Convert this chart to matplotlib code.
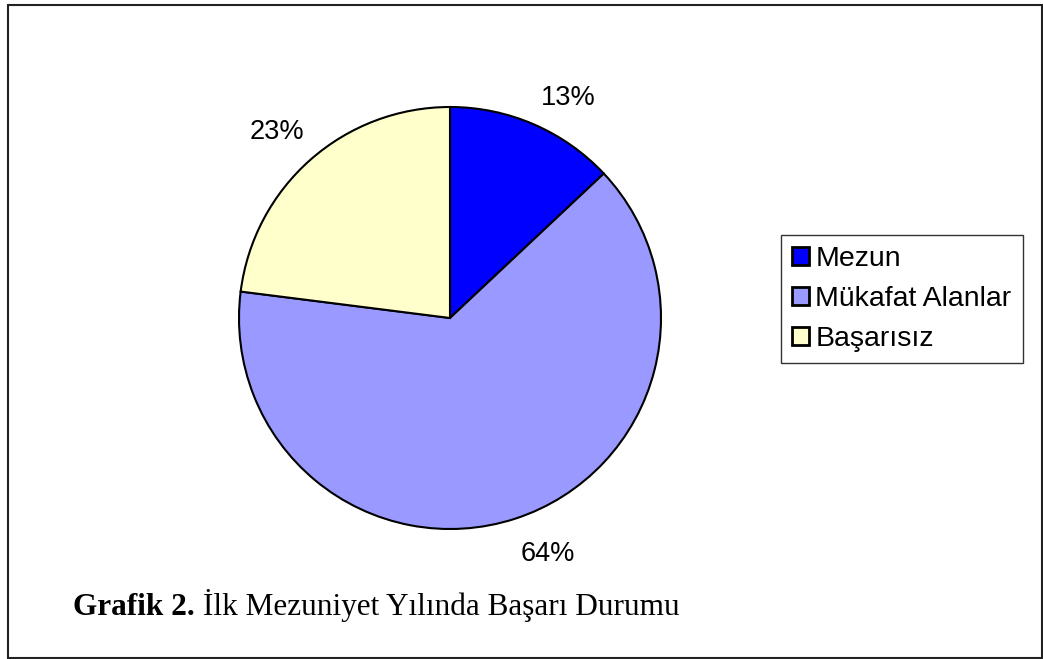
import matplotlib
matplotlib.use("Agg")
import matplotlib.pyplot as plt
from matplotlib.patches import Rectangle
import numpy as np

labels = ["Mezun", "Mükafat Alanlar", "Başarısız"]
values = [13, 64, 23]
colors = ["#0000FF", "#9999FF", "#FFFFCC"]
caption_bold = "Grafik 2."
caption_text = "İlk Mezuniyet Yılında Başarı Durumu"

W, H = 1043, 659
fig = plt.figure(figsize=(W / 100, H / 100), dpi=100)
plt.rcParams['font.family'] = ['Liberation Sans', 'DejaVu Sans']

# outer frame
fig.patches.append(Rectangle((8 / W, 1 - 658 / H), 1033.5 / W, 653 / H,
                             transform=fig.transFigure, fill=False,
                             edgecolor="#222222", linewidth=1.5))

cx, cy, r = 450, 318, 211
ax = fig.add_axes([(cx - r) / W, (H - cy - r) / H, 2 * r / W, 2 * r / H])
wedges, texts, autotexts = ax.pie(
    values, colors=colors, startangle=90, counterclock=False,
    autopct='%d%%', radius=1,
    wedgeprops=dict(edgecolor="black", linewidth=1.5),
    textprops=dict(fontsize=19.5))
ax.set_xlim(-1, 1)
ax.set_ylim(-1, 1)
ax.set_aspect('equal')

# labels outside the slices, anchored at the corner nearest the pie
for w, at in zip(wedges, autotexts):
    ang = np.deg2rad((w.theta1 + w.theta2) / 2)
    x, y = 1.09 * np.cos(ang), 1.09 * np.sin(ang)
    if x < 0:
        x += 0.03
    else:
        y -= 0.02
    at.set_position((x, y))
    at.set_ha('left' if x > 0 else 'right')
    at.set_va('bottom' if y > 0 else 'top')

leg = fig.legend(wedges, labels, loc="upper left",
                 bbox_to_anchor=(781 / W, 1 - 235 / H), fontsize=20.5,
                 frameon=True, fancybox=False, handlelength=0.6,
                 handleheight=0.6, handletextpad=0.2, borderpad=0.4,
                 labelspacing=0.48, borderaxespad=0)
leg.get_frame().set_edgecolor("black")
leg.get_frame().set_linewidth(1.0)
for h in leg.legend_handles:
    h.set_linewidth(2)

t = fig.text(73 / W, 1 - 615 / H, caption_bold + " ", fontsize=22.5,
             fontweight="bold", family="Liberation Serif", va="baseline")
fig.canvas.draw()
bb = t.get_window_extent()
fig.text(bb.x1 / W, 1 - 615 / H, caption_text, fontsize=22.5,
         family="Liberation Serif", va="baseline")

fig.savefig("out.png", dpi=100)
